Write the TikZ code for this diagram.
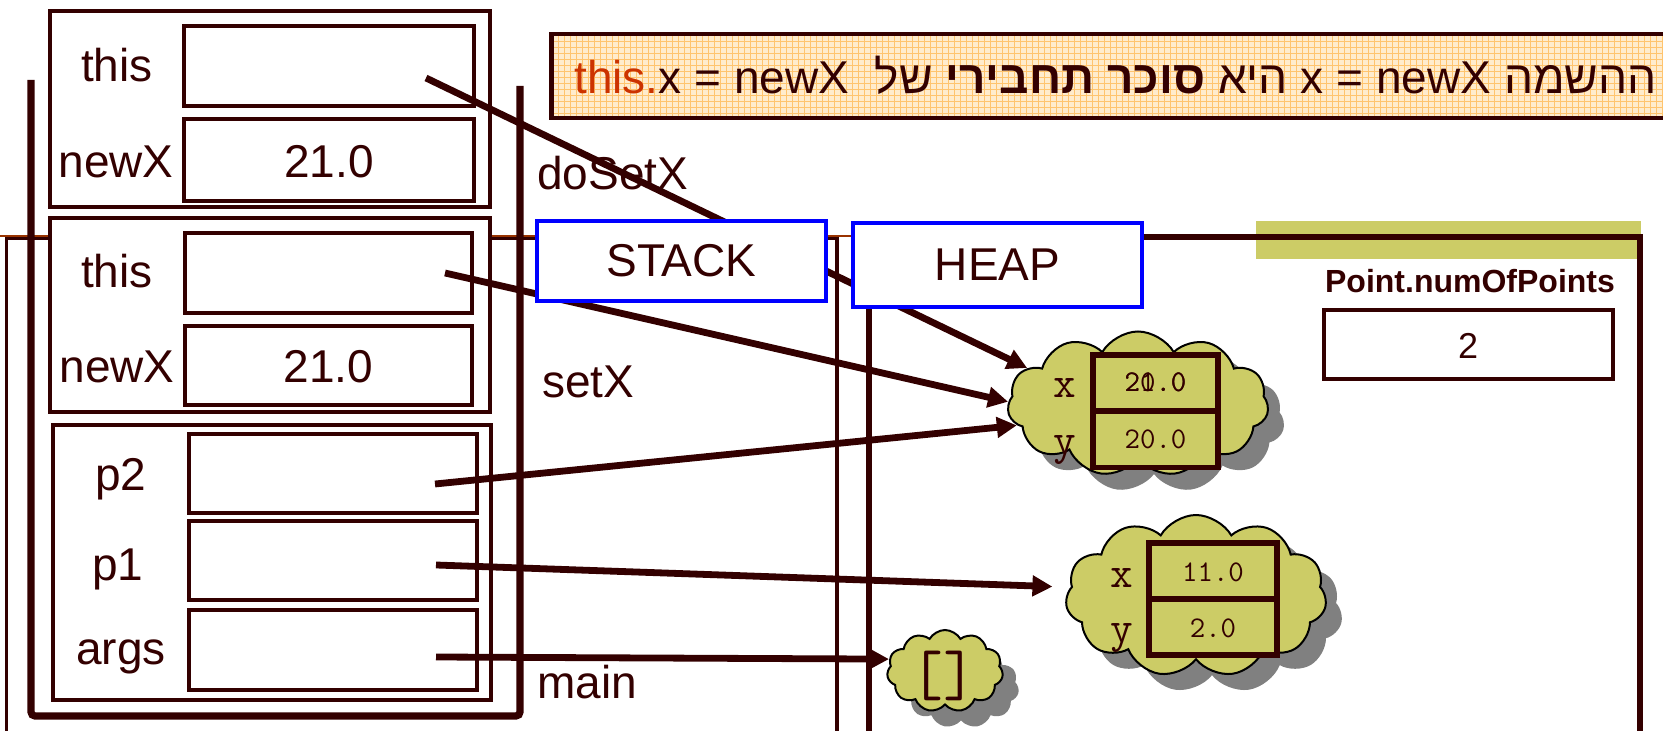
\documentclass[tikz,border=0pt]{standalone}
\usepackage{fontspec}
\setmainfont{Liberation Sans}
\newfontfamily\hebfont[Script=Hebrew]{Liberation Sans}
\TeXXeTstate=1
\usetikzlibrary{arrows.meta,shapes.symbols,shadows,patterns}
\definecolor{ink}{RGB}{51,0,0}
\definecolor{moss}{RGB}{204,204,102}
\definecolor{stackblue}{RGB}{0,0,255}
\definecolor{rust}{RGB}{153,51,0}
\definecolor{thisred}{RGB}{204,51,0}
\definecolor{peach}{RGB}{255,236,205}
\definecolor{peachline}{RGB}{255,196,110}

\begin{document}
\begin{tikzpicture}[x=0.5pt,y=-0.5pt,
	lbl/.style={text=ink,font=\fontsize{23}{27}\selectfont,inner sep=0},
	frame/.style={draw=ink,line width=2pt,fill=white,inner sep=0},
	cell/.style={draw=ink,line width=2pt,inner sep=0,minimum width=145pt,minimum height=40pt},
	title/.style={draw=stackblue,line width=2.4pt,fill=white,text=ink,font=\fontsize{23}{27}\selectfont,minimum width=144.5pt,inner sep=0},
	blob/.style={cloud,cloud puffs=11,cloud puff arc=120,cloud ignores aspect,draw=black,line width=1pt,fill=moss,inner sep=0,
		drop shadow={shadow xshift=8pt,shadow yshift=-8pt,fill=black!50,opacity=1}},
	slot/.style={draw=ink,line width=2.8pt,fill=moss,inner sep=0,minimum height=28pt},
	field/.style={text=ink,font=\ttfamily\fontsize{22}{25}\selectfont,inner sep=0,anchor=base},
	mono/.style={text=ink,font=\ttfamily\fontsize{15}{17}\selectfont,inner sep=0,anchor=base},
	ptr/.style={draw=ink,line width=3.4pt,-{Triangle[length=10pt,width=10pt]}}]
	\useasboundingbox (0,0) rectangle (1663,731);

	% stack and heap outlines
	\draw[rust,line width=1.2pt] (0,236) -- (853,236);
	\draw[ink,line width=1.5pt] (6,740) -- (6,239) -- (837,239);
	\draw[ink,line width=2pt] (837,237) -- (837,740);
	\fill[moss] (1256,221) rectangle (1641,259);
	\draw[ink,line width=2.8pt] (869,740) -- (869,237) -- (1640,237) -- (1640,740);
	\draw[ink,line width=3.6pt,rounded corners=2pt] (31,80) -- (31,716) -- (520,716) -- (520,86);

	% doSetX
	\node[frame,minimum width=220pt,minimum height=98pt] (dframe) at (270,109) {};
	\node[cell] (dthis) at (329,66.5) {};
	\node[cell,minimum height=41pt] (dnewx) at (329,160) {};
	\node[lbl,anchor=base] (dthisname) at (117,82) {this};
	\node[lbl,anchor=base] (dnewxname) at (116,178) {newX};
	\node[lbl,anchor=base] (dnewxval) at (329,178) {21.0};
	\node[lbl,anchor=base west] (dname) at (537,190) {doSetX};

	% setX
	\node[frame,minimum width=220pt,minimum height=97pt] (sframe) at (270,315) {};
	\node[cell,minimum width=143.5pt] (sthis) at (328.5,273) {};
	\node[cell,minimum width=143.5pt,minimum height=39.5pt] (snewx) at (328.5,365.5) {};
	\node[lbl,anchor=base] (sthisname) at (117,288) {this};
	\node[lbl,anchor=base] (snewxname) at (117,383) {newX};
	\node[lbl,anchor=base] (snewxval) at (328.5,383) {21.0};
	\node[lbl,anchor=base west] (sname) at (542,398) {setX};

	% main
	\node[frame,minimum width=219pt,minimum height=137.5pt] (mframe) at (272,562.5) {};
	\node[cell,minimum width=144pt,minimum height=39.5pt] (mp2) at (333,473.5) {};
	\node[cell,minimum width=144pt,minimum height=39.5pt] (mp1) at (333,560.5) {};
	\node[cell,minimum width=144pt] (margs) at (333,650) {};
	\node[lbl,anchor=base] (mp2name) at (121,490) {p2};
	\node[lbl,anchor=base] (mp1name) at (118,580) {p1};
	\node[lbl,anchor=base] (margsname) at (121,664) {args};
	\node[lbl,anchor=base west] (mname) at (537,698) {main};

	% note
	\node[draw=ink,line width=2.4pt,preaction={fill=peach},pattern=grid,pattern color=peachline,
		minimum width=580pt,minimum height=42pt,inner sep=0,anchor=west] (note) at (549,76) {};
	\node[lbl,anchor=base west] (notetext) at (574,94)
		{\hebfont\beginR ההשמה \beginL x = newX\endL{} היא \textbf{סוכר תחבירי} של\ \ \beginL{\color{thisred}this.}x = newX\endL\endR};

	% static field
	\node[text=ink,font=\bfseries\fontsize{16}{19}\selectfont,inner sep=0,anchor=base] (nname) at (1470,293) {Point.numOfPoints};
	\node[cell,minimum width=144.5pt,minimum height=34.5pt] (nbox) at (1468.5,344.5) {};
	\node[text=ink,font=\fontsize{18}{21}\selectfont,inner sep=0,anchor=base] (nval) at (1468,359) {2};

	% objects
	\node[blob,minimum width=130.5pt,minimum height=72.5pt] (ptb) at (1138,404) {};
	\node[slot,minimum width=62.5pt] (ptbx) at (1155.5,383) {};
	\node[slot,minimum width=62.5pt] (ptby) at (1155.5,439.5) {};
	\node[field] (ptbxname) at (1065,398) {x};
	\node[field] (ptbyname) at (1065,455) {y};
	\node[mono] (ptbxold) at (1155.5,392) {20.0};
	\node[mono] (ptbxnew) at (1155.5,392) {21.0};
	\node[mono] (ptbyval) at (1155.5,449) {20.0};

	\node[blob,minimum width=130.5pt,minimum height=81pt] (pta) at (1196,596) {};
	\node[slot,minimum width=64pt] (ptax) at (1213,571) {};
	\node[slot,minimum width=64pt] (ptay) at (1213,627) {};
	\node[field] (ptaxname) at (1122,587) {x};
	\node[field] (ptayname) at (1122,642) {y};
	\node[mono] (ptaxval) at (1213,581) {11.0};
	\node[mono] (ptayval) at (1213,637) {2.0};

	\node[blob,minimum width=58pt,minimum height=41pt] (arr) at (945,671) {};
	\node[text=ink,font=\ttfamily\fontsize{32}{35}\selectfont,inner sep=0] (arrval) at (943,676) {[]};

	% references
	\coordinate (dptr) at (426,78);
	\coordinate (sptr) at (445,273);
	\coordinate (p2ptr) at (435,484);
	\coordinate (p1ptr) at (436,565);
	\coordinate (argptr) at (436,657);
	\draw[ptr] (dptr) -- (ptb.162);
	\draw[ptr] (sptr) -- (ptb.179);
	\draw[ptr] (p2ptr) -- (ptb.190);
	\draw[ptr,shorten >=9pt] (p1ptr) -- (pta.176);
	\draw[ptr] (argptr) -- (arr.168);

	\node[title,minimum height=40pt] (stack) at (681.5,261) {STACK};
	\node[title,minimum height=42pt] (heap) at (997.5,265) {HEAP};
\end{tikzpicture}
\end{document}
